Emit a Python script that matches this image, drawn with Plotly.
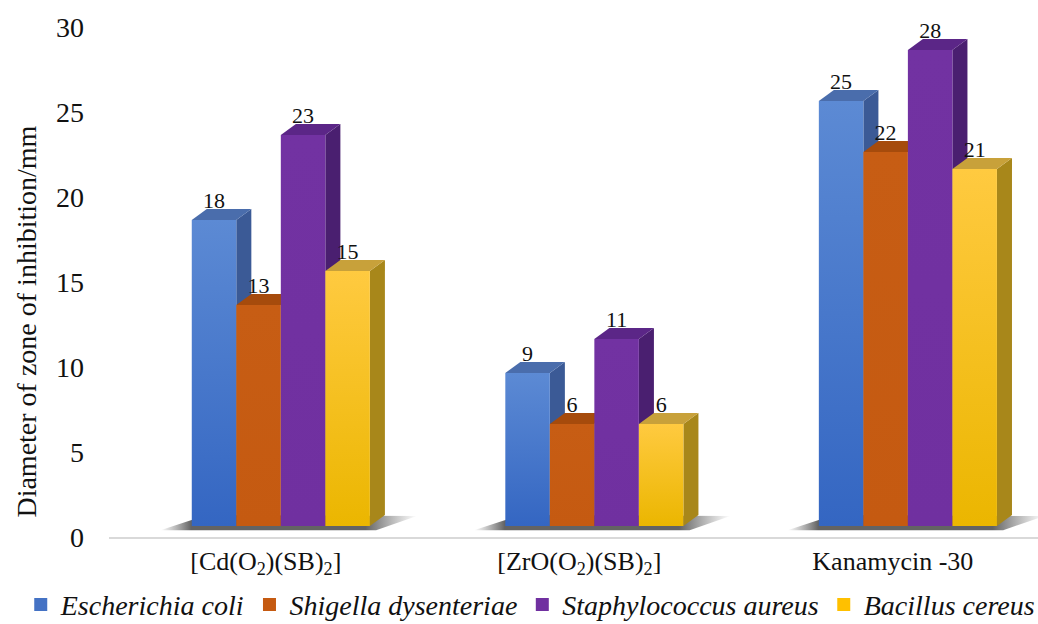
import plotly.graph_objects as go

# ---- data -------------------------------------------------------------
categories = [
    "[Cd(O<sub>2</sub>)(SB)<sub>2</sub>]",
    "[ZrO(O<sub>2</sub>)(SB)<sub>2</sub>]",
    "Kanamycin -30",
]
species = ["Escherichia coli", "Shigella dysenteriae",
           "Staphylococcus aureus", "Bacillus cereus"]
e_coli = [18, 9, 25]
s_dysenteriae = [13, 6, 22]
s_aureus = [23, 11, 28]
b_cereus = [15, 6, 21]
y_ticks = [0, 5, 10, 15, 20, 25, 30]
y_title = "Diameter of zone of inhibition/mm"

series = [e_coli, s_dysenteriae, s_aureus, b_cereus]

# ---- styling ----------------------------------------------------------
FONT = "Liberation Serif"
# (front bottom, front top, top face, side face, legend swatch)
palette = [
    ("#3466c2", "#5c8ad4", "#4a6dac", "#3b5a96", "#4472c4"),
    ("#c55a11", "#c75d14", "#a64b0c", "#8f400a", "#c55a11"),
    ("#7030a0", "#7232a2", "#5b2687", "#4a1f70", "#7030a0"),
    ("#ebb600", "#ffca40", "#c8a13a", "#a8871a", "#ffc000"),
]

# 3-D box geometry (axis units)
X_RANGE = [-0.5, 2.463]
BAR_W = 0.142          # width of one column face
GROUP_LEFT = -0.236    # left edge of first column relative to category
DEPTH_X = 0.048        # receding depth, horizontal
DEPTH_Y = 0.647        # receding depth, vertical
FLOOR = 0.647          # columns stand on a floor raised above the axis line
LABEL_DROP = 0.24      # value labels sit on the back edge of the lid

fig = go.Figure()


def poly(xs, ys, **kw):
    fig.add_trace(go.Scatter(
        x=xs + [xs[0]], y=ys + [ys[0]], mode="lines", fill="toself",
        line=dict(width=0), hoverinfo="skip", showlegend=False,
        yaxis="y2", **kw))


# floor shadows under each cluster
for g in range(len(categories)):
    x0 = g + GROUP_LEFT
    x1 = x0 + BAR_W * len(series)
    xs = [x0 - 0.10, x1 + 0.02, x1 + 0.15, x0 + DEPTH_X]
    ys = [-0.25, -0.25, DEPTH_Y * 0.9, DEPTH_Y]
    poly(xs, ys, fillgradient=dict(
        type="horizontal",
        colorscale=[[0, "rgba(90,90,90,0)"], [0.12, "rgba(60,60,60,0.8)"],
                    [0.8, "rgba(60,60,60,0.8)"], [1, "rgba(90,90,90,0)"]]))

# columns: side, top, then front face, left to right
for g in range(len(categories)):
    for i, vals in enumerate(series):
        v = vals[g]
        c_bot, c_top, c_lid, c_side, _ = palette[i]
        x0 = g + GROUP_LEFT + i * BAR_W
        x1 = x0 + BAR_W
        poly([x1, x1 + DEPTH_X, x1 + DEPTH_X, x1],
             [0, DEPTH_Y, v + DEPTH_Y, v], fillcolor=c_side)
        poly([x0, x1, x1 + DEPTH_X, x0 + DEPTH_X],
             [v, v, v + DEPTH_Y, v + DEPTH_Y], fillcolor=c_lid)
        poly([x0, x1, x1, x0], [0, 0, v, v],
             fillgradient=dict(type="vertical", start=0, stop=v,
                               colorscale=[[0, c_bot], [1, c_top]]))

# value labels
for i, vals in enumerate(series):
    xs = [g + GROUP_LEFT + i * BAR_W + BAR_W / 2 for g in range(len(categories))]
    fig.add_trace(go.Scatter(
        x=xs, y=[v + DEPTH_Y - LABEL_DROP for v in vals], mode="text",
        text=[str(v) for v in vals], textposition="top center",
        textfont=dict(family=FONT, size=22, color="#111111"),
        cliponaxis=False, hoverinfo="skip", showlegend=False, yaxis="y2"))

# legend swatches
for i, name in enumerate(species):
    fig.add_trace(go.Scatter(
        x=[None], y=[None], mode="markers", name=name,
        marker=dict(symbol="square", size=13, color=palette[i][4])))

fig.update_layout(
    width=1038, height=624,
    margin=dict(l=109, r=0, t=27, b=87, autoexpand=False),
    paper_bgcolor="white", plot_bgcolor="white",
    font=dict(family=FONT, size=26, color="#111111"),
    xaxis=dict(range=X_RANGE, tickvals=list(range(len(categories))),
               ticktext=categories, showgrid=False, zeroline=False,
               showline=True, linecolor="#d9d9d9", linewidth=1.5,
               ticks="", automargin=False,
               tickfont=dict(family=FONT, size=26)),
    yaxis=dict(range=[0, 30], tickvals=y_ticks, showgrid=False,
               zeroline=False, showline=False, ticks="", automargin=False,
               ticklabelstandoff=24, tickfont=dict(family=FONT, size=28)),
    yaxis2=dict(range=[-FLOOR, 30 - FLOOR], overlaying="y", visible=False),
    legend=dict(orientation="h", x=-0.095, xanchor="left",
                y=-0.133, yanchor="middle",
                font=dict(family=FONT, size=28, style="italic"),
                itemwidth=30, tracegroupgap=0),
    annotations=[dict(text=y_title, textangle=-90, showarrow=False,
                      xref="paper", yref="paper", x=-0.0893, y=0.4225,
                      xanchor="center", yanchor="middle",
                      font=dict(family=FONT, size=28, color="#111111"))],
    showlegend=True,
)

fig.write_html("out.html")
